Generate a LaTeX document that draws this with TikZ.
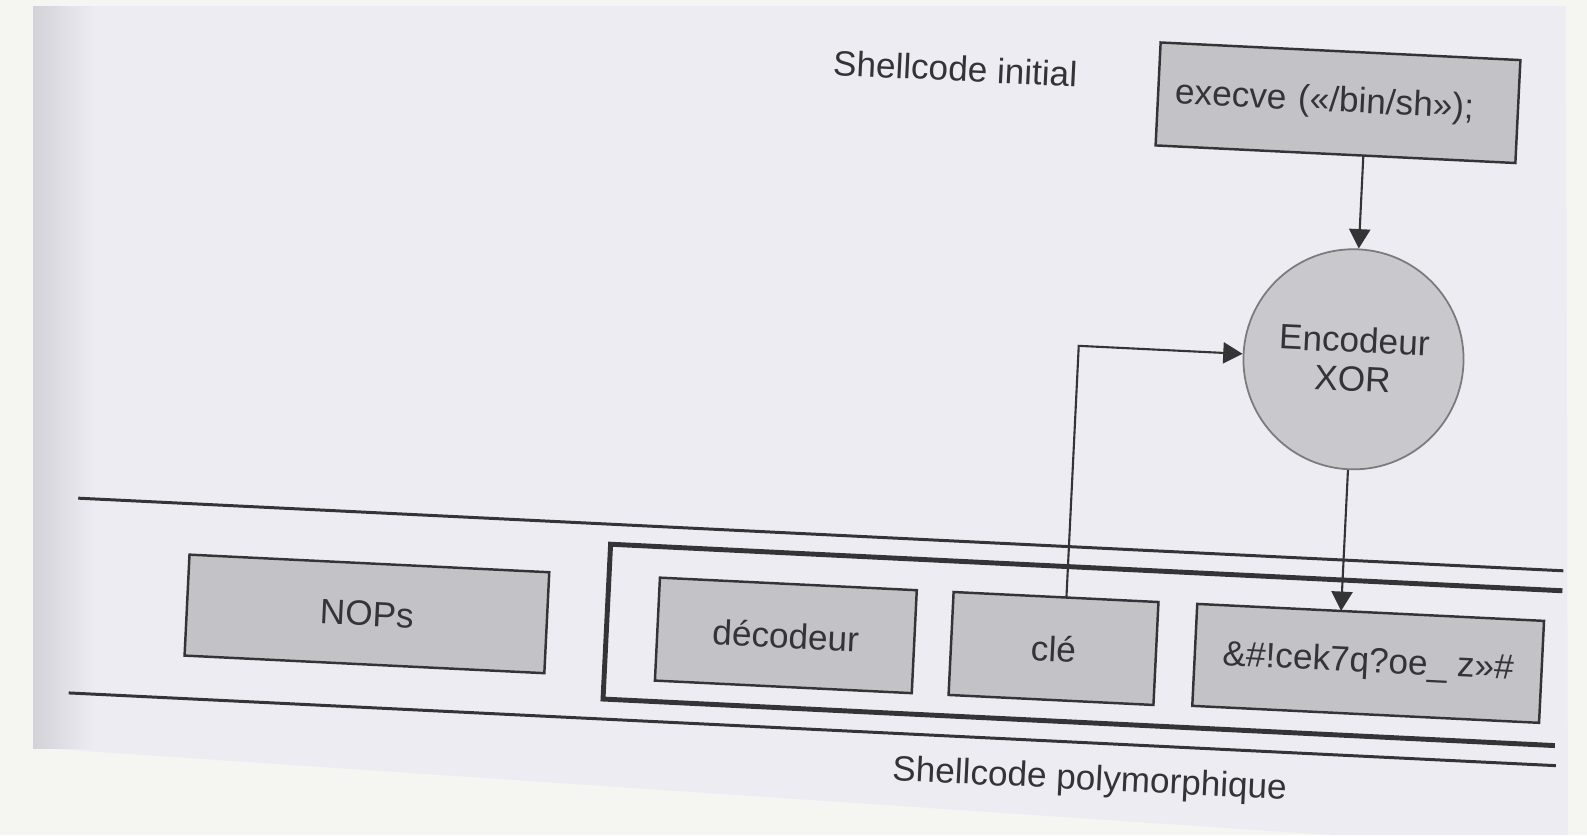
\documentclass[tikz,border=0pt]{standalone}
\usepackage{fontspec}
\setmainfont{Liberation Sans}
\usetikzlibrary{arrows.meta}
\definecolor{paper}{RGB}{236,236,242}
\definecolor{outside}{RGB}{245,246,242}
\definecolor{ink}{RGB}{52,52,55}
\definecolor{boxfill}{RGB}{194,194,199}
\definecolor{ringfill}{RGB}{200,200,205}
\definecolor{shadow}{RGB}{210,210,216}

\begin{document}
\begin{tikzpicture}[x=0.01cm, y=-0.01cm,
  every node/.style={font=\fontsize{10}{11}\selectfont, text=ink},
  cell/.style={draw=ink, fill=boxfill, line width=0.7pt, inner sep=0pt},
  ring/.style={circle, draw=ink!65, fill=ringfill, line width=0.5pt,
    minimum size=2.2cm, inner sep=0pt, align=center},
  band/.style={draw=ink, line width=0.85pt},
  frame/.style={draw=ink, line width=1.4pt},
  flow/.style={draw=ink, line width=0.6pt,
    -{Triangle[length=5.5pt,width=6pt]}}
]
\useasboundingbox (0,0) rectangle (1587,835);

% sheet of paper
\fill[outside] (0,0) rectangle (1587,835);
\fill[paper] (33,6) -- (1566,6) -- (1568,835) -- (1330,835) -- (40,748) -- cycle;
\shade[left color=shadow, right color=paper] (33,6) rectangle (95,748);

\begin{scope}[rotate around={-2.8:(793.5,417.5)}, transform shape]
  % initial shellcode and encoder
  \node (init) at (938,61) {Shellcode initial};
  \node[cell, inner xsep=0.17cm, text width=3.26cm, align=left,
        minimum height=1.03cm] (exec) at (1322,76.5)
    {execve («/bin/sh»);};
  \node[ring] (enc) at (1350,332) {Encodeur\\XOR};

  % band holding the polymorphic shellcode
  \draw[band] (83,533) -- (1570,533);
  \draw[band] (83,728) -- (1572,728);
  \draw[frame] (1570,553) -- (617,553) -- (617,708) -- (1570,708);

  \node[cell, minimum width=3.6cm, minimum height=1.01cm] (nops) at (377,634.5) {NOPs};
  \node[cell, minimum width=2.57cm, minimum height=1.03cm] (dec) at (796.5,635.5) {décodeur};
  \node[cell, minimum width=2.05cm, minimum height=1.03cm] (cle) at (1064.5,635.5) {clé};
  \node[cell, minimum width=3.47cm, minimum height=1.02cm] (load) at (1379.5,635)
    {\&\#!cek7q?oe\_ z»\#\hspace{0.14cm}};

  \node (poly) at (1107,766) {Shellcode polymorphique};

  % connectors
  \coordinate (execout) at (1350,128);
  \coordinate (keyout) at (1075,584);
  \coordinate (keybend) at (1075,332);
  \coordinate (loadin) at (1350,584);
  \draw[flow] (execout) -- (enc.north);
  \draw[flow] (keyout) -- (keybend) -- (enc.west);
  \draw[flow] (enc.south) -- (loadin);
\end{scope}
\end{tikzpicture}
\end{document}
